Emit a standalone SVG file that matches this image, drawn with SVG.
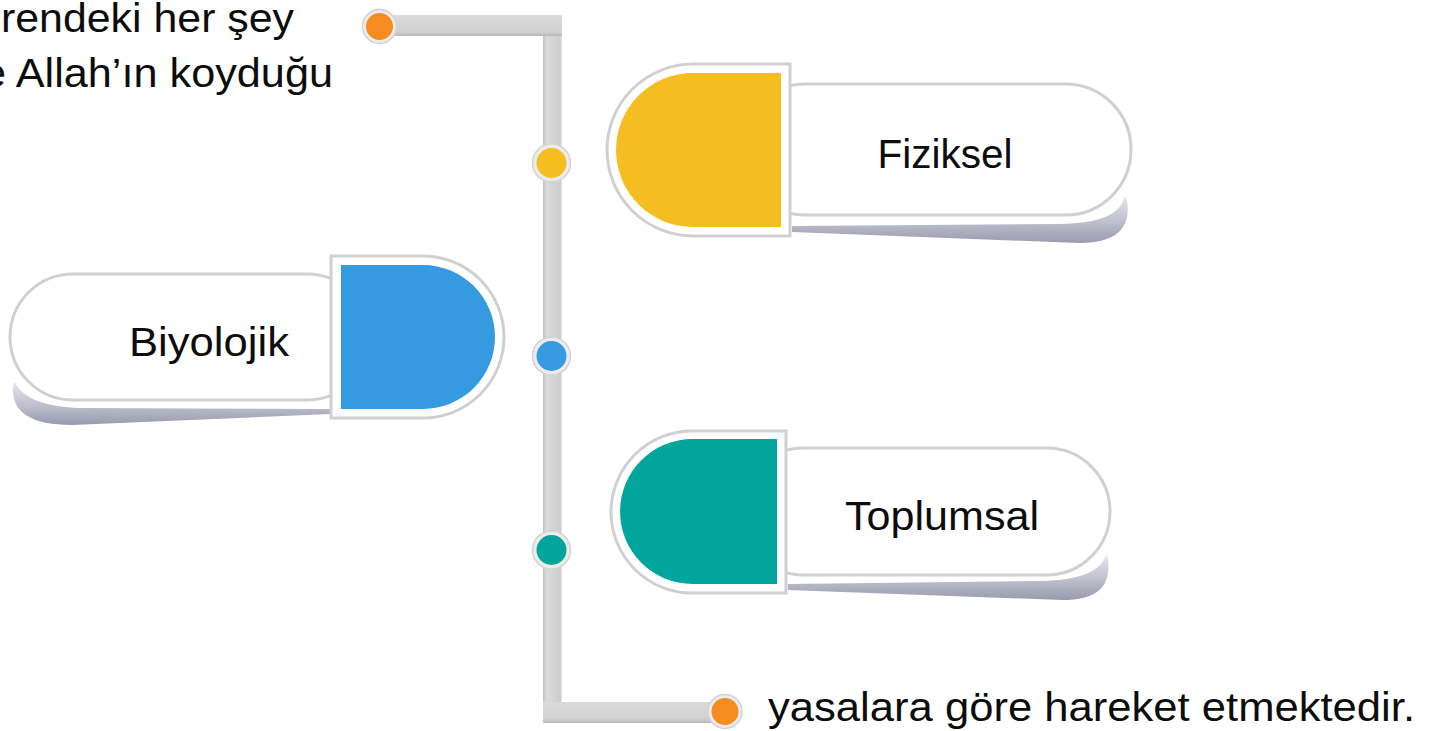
<svg xmlns="http://www.w3.org/2000/svg" width="1429" height="731" viewBox="0 0 1429 731">
<defs>
  <linearGradient id="hbar" x1="0" y1="0" x2="0" y2="1">
    <stop offset="0" stop-color="#dadada"/>
    <stop offset="0.8" stop-color="#d1d1d1"/>
    <stop offset="1" stop-color="#b8b8b8"/>
  </linearGradient>
  <linearGradient id="vbar" x1="0" y1="0" x2="1" y2="0">
    <stop offset="0" stop-color="#c2c2c2"/>
    <stop offset="0.2" stop-color="#dadada"/>
    <stop offset="1" stop-color="#cccccc"/>
  </linearGradient>
  <linearGradient id="shd" x1="0" y1="0" x2="0" y2="1">
    <stop offset="0" stop-color="#e6e6ee"/>
    <stop offset="0.5" stop-color="#c2c2d0"/>
    <stop offset="1" stop-color="#9a9aae"/>
  </linearGradient>
  <style>
    .pill { fill:#ffffff; stroke:#d0d0d0; stroke-width:3; }
    .frame { fill:#ffffff; stroke:#d0d0d0; stroke-width:3; }
    .shadow { fill:url(#shd); }
    .lbl { font-family:"Liberation Sans", Arial, sans-serif; font-size:40px; fill:#0d0d0d; }
    .ring { fill:#ececec; stroke:#d3d3d3; stroke-width:1.5; }
    .txt { font-family:"Liberation Sans", Arial, sans-serif; font-size:40px; fill:#0d0d0d; }
  </style>
</defs>
<rect width="1429" height="731" fill="#ffffff"/>

<g id="connectors">
  <rect x="543" y="15" width="18.5" height="708" fill="url(#vbar)"/>
  <rect x="379" y="15" width="183" height="21" fill="url(#hbar)"/>
  <rect x="543" y="702" width="182" height="21" fill="url(#hbar)"/>
  <circle class="ring" cx="379.5" cy="26.5" r="17"/>
  <circle cx="379.5" cy="26.5" r="13.5" fill="#F68B1F"/>
  <circle class="ring" cx="551.5" cy="163" r="19"/>
  <circle cx="551.5" cy="163" r="15" fill="#F4BD21"/>
  <circle class="ring" cx="551.5" cy="356" r="19"/>
  <circle cx="551.5" cy="356" r="15" fill="#359AE0"/>
  <circle class="ring" cx="551.5" cy="550" r="19"/>
  <circle cx="551.5" cy="550" r="15" fill="#00A69C"/>
  <circle class="ring" cx="725" cy="711.5" r="17"/>
  <circle cx="725" cy="711.5" r="13.5" fill="#F68B1F"/>
</g>

<g id="node-fiziksel">
  <path class="shadow" d="M 792,226 L 1060,224 C 1100,223 1120,215 1125,196 L 1127,200 C 1131,225 1120,243 1080,243 L 792,232 Z"/>
  <rect class="pill" x="740" y="84" width="391" height="131" rx="65.5"/>
  <path class="frame" d="M 790,64 L 693,64 A 86,86 0 0 0 693,236 L 790,236 Z"/>
  <path d="M 781,73 L 693,73 A 77,77 0 0 0 693,227 L 781,227 Z" fill="#F4BD21"/>
  <text class="lbl" x="945" y="168" text-anchor="middle" textLength="135" lengthAdjust="spacingAndGlyphs">Fiziksel</text>
</g>

<g id="node-biyolojik">
  <path class="shadow" d="M 330,409 L 80,408 C 45,407 22,398 15,382 L 13,386 C 11,412 30,425 72,425 L 330,414 Z"/>
  <rect class="pill" x="10" y="274" width="360" height="126" rx="63"/>
  <path class="frame" d="M 331,256 L 423,256 A 81,81 0 0 1 423,418 L 331,418 Z"/>
  <path d="M 341,265 L 423,265 A 72,72 0 0 1 423,409 L 341,409 Z" fill="#359AE0"/>
  <text class="lbl" x="209" y="356" text-anchor="middle" textLength="160" lengthAdjust="spacingAndGlyphs">Biyolojik</text>
</g>

<g id="node-toplumsal">
  <path class="shadow" d="M 788,584 L 1040,581 C 1080,580 1100,572 1106,555 L 1108,558 C 1111,585 1100,600 1062,600 L 788,590 Z"/>
  <rect class="pill" x="740" y="448" width="370" height="127" rx="63.5"/>
  <path class="frame" d="M 786,431 L 692,431 A 81,81 0 0 0 692,593 L 786,593 Z"/>
  <path d="M 777,439 L 692.5,439 A 72.5,72.5 0 0 0 692.5,584 L 777,584 Z" fill="#00A69C"/>
  <text class="lbl" x="942" y="530" text-anchor="middle" textLength="194" lengthAdjust="spacingAndGlyphs">Toplumsal</text>
</g>

<g id="text-top">
  <text class="txt" x="1" y="32" textLength="293" lengthAdjust="spacingAndGlyphs">rendeki her şey</text>
  <text class="txt" x="-18" y="87" textLength="351" lengthAdjust="spacingAndGlyphs">e Allah’ın koyduğu</text>
</g>

<g id="text-bottom">
  <text class="txt" x="768" y="721" textLength="647" lengthAdjust="spacingAndGlyphs">yasalara göre hareket etmektedir.</text>
</g>
</svg>
